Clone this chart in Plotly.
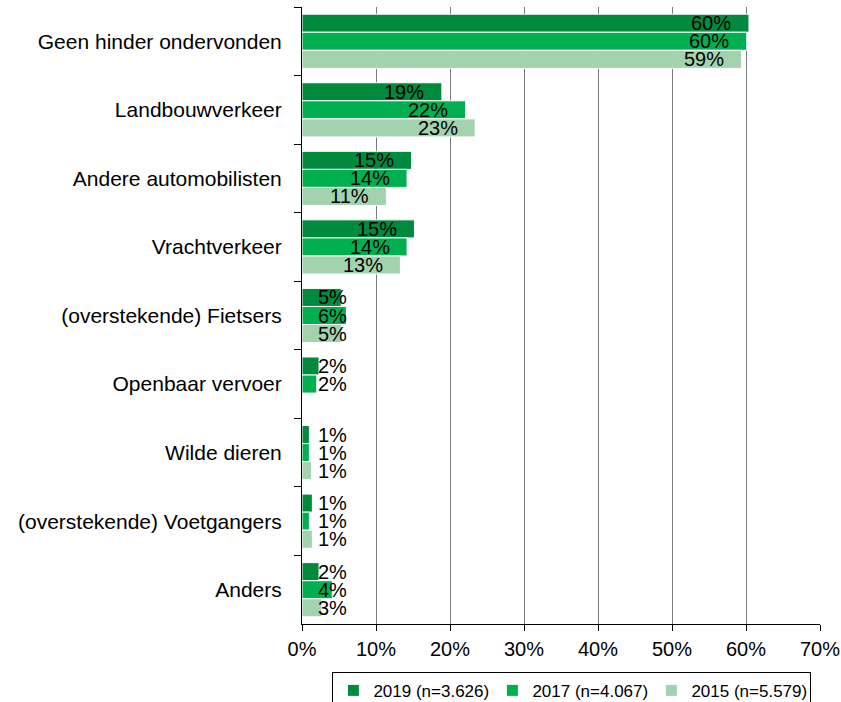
import plotly.graph_objects as go

categories = [
    "Geen hinder ondervonden",
    "Landbouwverkeer",
    "Andere automobilisten",
    "Vrachtverkeer",
    "(overstekende) Fietsers",
    "Openbaar vervoer",
    "Wilde dieren",
    "(overstekende) Voetgangers",
    "Anders",
]
series_names = ["2019 (n=3.626)", "2017 (n=4.067)", "2015 (n=5.579)"]
values_2019 = [60.4, 18.9, 14.8, 15.2, 5.3, 2.3, 1.0, 1.4, 2.3]
values_2017 = [60.1, 22.1, 14.2, 14.2, 6.0, 2.0, 1.0, 1.0, 4.1]
values_2015 = [59.4, 23.4, 11.4, 13.3, 5.4, None, 1.3, 1.4, 2.7]
x_tick_values = [0, 10, 20, 30, 40, 50, 60, 70]
x_tick_labels = ["0%", "10%", "20%", "30%", "40%", "50%", "60%", "70%"]

colors = ["#008A3E", "#00AF50", "#A3D2AE"]
all_series = [values_2019, values_2017, values_2015]

fig = go.Figure()
for name, vals, col in zip(series_names, all_series, colors):
    fig.add_trace(go.Bar(
        y=categories, x=vals, orientation="h", name=name,
        marker=dict(color=col, line=dict(color="white", width=1)),
        hoverinfo="skip",
    ))

bargap = 0.21
bar_w = (1 - bargap) / 3
offsets = [-bar_w, 0, bar_w]
px_per_unit = 518 / 70.0
label_font = 20
inset = 16.5 / px_per_unit
left_min = 17.0 / px_per_unit

annotations = []
for vals, off in zip(all_series, offsets):
    for i, v in enumerate(vals):
        if v is None:
            continue
        txt = f"{v:.0f}%"
        ndig = len(txt) - 1
        w = (ndig * 0.556 + 0.889) * label_font / px_per_unit
        xr = max(v - inset, left_min + w)
        annotations.append(dict(
            x=xr, y=i + off, xref="x", yref="y", text=txt, showarrow=False,
            xanchor="right", yanchor="middle",
            font=dict(family="Liberation Sans, Arial", size=label_font, color="black"),
            borderpad=0,
        ))

fig.update_layout(
    width=841, height=702,
    margin=dict(l=302, r=21, t=7, b=78, autoexpand=False),
    paper_bgcolor="white", plot_bgcolor="white",
    barmode="group", bargap=bargap, bargroupgap=0,
    font=dict(family="Liberation Sans, Arial", color="black"),
    annotations=annotations,
    showlegend=True,
    legend=dict(
        orientation="h", x=0.680, xref="container", xanchor="center",
        y=0.043, yref="container", yanchor="top",
        bordercolor="black", borderwidth=1,
        font=dict(size=17, color="black"),
        traceorder="normal", entrywidth=114, entrywidthmode="pixels",
        itemwidth=30,
    ),
)
fig.update_xaxes(
    range=[0, 70], tickvals=x_tick_values, ticktext=x_tick_labels,
    showgrid=True, gridcolor="#7a7a7a", gridwidth=1,
    showline=True, linecolor="black", linewidth=1,
    ticks="outside", ticklen=6, tickcolor="black",
    tickfont=dict(size=20, color="black"), zeroline=False,
    ticklabelstandoff=1, automargin=False,
)
fig.update_yaxes(
    type="category", autorange="reversed",
    showline=True, linecolor="black", linewidth=1,
    ticks="outside", ticklen=7, tickcolor="black", tickson="boundaries",
    tickfont=dict(size=21, color="black"), showgrid=False,
    ticklabelstandoff=15, automargin=False,
)

fig.write_html(
    "out.html",
    config={"displayModeBar": False, "staticPlot": True},
    post_script="document.body.style.margin='0';document.body.style.padding='0';",
)
